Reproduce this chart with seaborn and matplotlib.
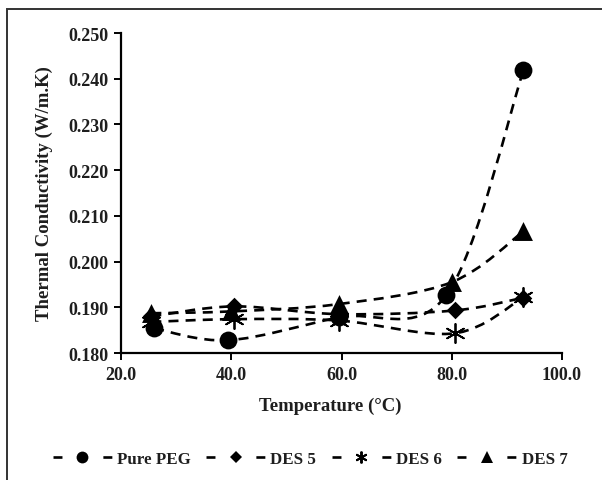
import numpy as np
import pandas as pd
import matplotlib
matplotlib.use("Agg")
import matplotlib.pyplot as plt
import seaborn as sns
from matplotlib.path import Path
from matplotlib.patches import PathPatch, Rectangle
from matplotlib.lines import Line2D
from matplotlib.ticker import FormatStrFormatter

# Measured thermal conductivity (W/m.K) against temperature (°C)
series_names = ["Pure PEG", "DES 5", "DES 6", "DES 7"]
temp_peg = [26.0, 39.5, 59.5, 79.0, 93.0]
k_peg = [0.1854, 0.1828, 0.1878, 0.1926, 0.2418]
temp_des5 = [25.5, 40.5, 59.5, 80.5, 93.0]
k_des5 = [0.1880, 0.1902, 0.1885, 0.1893, 0.1921]
temp_des6 = [25.5, 40.5, 59.5, 80.5, 93.0]
k_des6 = [0.1868, 0.1874, 0.1871, 0.1843, 0.1922]
temp_des7 = [25.5, 40.0, 59.5, 80.0, 93.0]
k_des7 = [0.1887, 0.1891, 0.1907, 0.1955, 0.2066]

x_ticks = [20, 40, 60, 80, 100]
y_ticks = [0.180, 0.190, 0.200, 0.210, 0.220, 0.230, 0.240, 0.250]

frames = []
for name, t, k in zip(series_names,
                      [temp_peg, temp_des5, temp_des6, temp_des7],
                      [k_peg, k_des5, k_des6, k_des7]):
    frames.append(pd.DataFrame({"series": name, "temp": t, "k": k}))
df = pd.concat(frames, ignore_index=True)

sns.set_theme(style="ticks")
plt.rcParams["font.family"] = ["Liberation Serif", "DejaVu Serif"]
plt.rcParams["font.weight"] = "bold"
plt.rcParams["axes.labelweight"] = "bold"

fig = plt.figure(figsize=(6.02, 4.81), dpi=100)
ax = fig.add_axes([121 / 602, 1 - 354 / 481, 441 / 602, 320 / 481])

LW = 1.9
DASH = (0, (3.8, 2.7))
LEGEND_DASH = (0, (3.4, 15.5))

# marker style per series: (marker, size, linewidth)
marker_style = {
    "Pure PEG": ("o", 165, 0),
    "DES 5": ("D", 80, 0),
    "DES 6": ((6, 2, 0), 190, 1.3),
    "DES 7": ("^", 185, 0),
}
legend_ms = {"Pure PEG": 8.5, "DES 5": 6.0, "DES 6": 8.5, "DES 7": 8.5}


def smooth_path(xs, ys):
    """Catmull-Rom style cubic Bezier through the points (Excel-like smoothing)."""
    pts = np.column_stack([xs, ys]).astype(float)
    n = len(pts)
    verts = [pts[0]]
    codes = [Path.MOVETO]
    for i in range(n - 1):
        p_prev = pts[i - 1] if i > 0 else pts[i]
        p_next = pts[i + 2] if i + 2 < n else pts[i + 1]
        c1 = pts[i] + (pts[i + 1] - p_prev) / 6.0
        c2 = pts[i + 1] - (p_next - pts[i]) / 6.0
        verts += [c1, c2, pts[i + 1]]
        codes += [Path.CURVE4] * 3
    return Path(verts, codes)


for name in series_names:
    sub = df[df["series"] == name]
    ax.add_patch(PathPatch(smooth_path(sub["temp"], sub["k"]), fill=False,
                           edgecolor="black", lw=LW, linestyle=DASH,
                           capstyle="butt", zorder=2))

for name in series_names:
    sub = df[df["series"] == name]
    mk, s, lw = marker_style[name]
    sns.scatterplot(data=sub, x="temp", y="k", marker=mk, s=s, color="black",
                    edgecolor="black", linewidth=lw, ax=ax, zorder=3,
                    legend=False)

ax.set_xlim(20, 100)
ax.set_ylim(0.18, 0.25)
ax.set_xticks(x_ticks)
ax.set_yticks(y_ticks)
ax.xaxis.set_major_formatter(FormatStrFormatter("%.1f"))
ax.yaxis.set_major_formatter(FormatStrFormatter("%.3f"))
ax.tick_params(direction="out", length=5, width=1.4, colors="black",
               labelsize=13, pad=4)
for lab in ax.get_xticklabels() + ax.get_yticklabels():
    lab.set_fontweight("bold")
    lab.set_color("#1e1e1e")
sns.despine(ax=ax)
for side in ["left", "bottom"]:
    ax.spines[side].set_linewidth(1.6)
    ax.spines[side].set_color("black")

ax.set_xlabel("Temperature (°C)", fontsize=13.5, fontweight="bold", color="#1e1e1e")
ax.set_ylabel("Thermal Conductivity (W/m.K)", fontsize=13.5, fontweight="bold",
              color="#1e1e1e")
ax.xaxis.set_label_coords(0.475, -0.135)
ax.yaxis.set_label_coords(-0.155, 0.5)

handles = []
for name in series_names:
    mk, s, lw = marker_style[name]
    handles.append(Line2D([], [], color="black", lw=LW, linestyle=LEGEND_DASH,
                          marker=mk, markersize=legend_ms[name],
                          markeredgewidth=1.4 if lw else 0,
                          markerfacecolor="black", markeredgecolor="black"))
fig.legend(handles, series_names, loc="center", bbox_to_anchor=(310 / 602, 1 - 460 / 481),
           ncol=4, frameon=False, handlelength=3.5, handletextpad=0.3,
           columnspacing=0.9, prop={"size": 12.2, "weight": "bold"},
           labelcolor="#1e1e1e")

fig.add_artist(Rectangle((7 / 602, -0.1), 1.0, 1.1 - 10 / 481,
                         transform=fig.transFigure, fill=False, lw=1.4,
                         edgecolor="#333333"))

fig.savefig("out.png", dpi=100)
